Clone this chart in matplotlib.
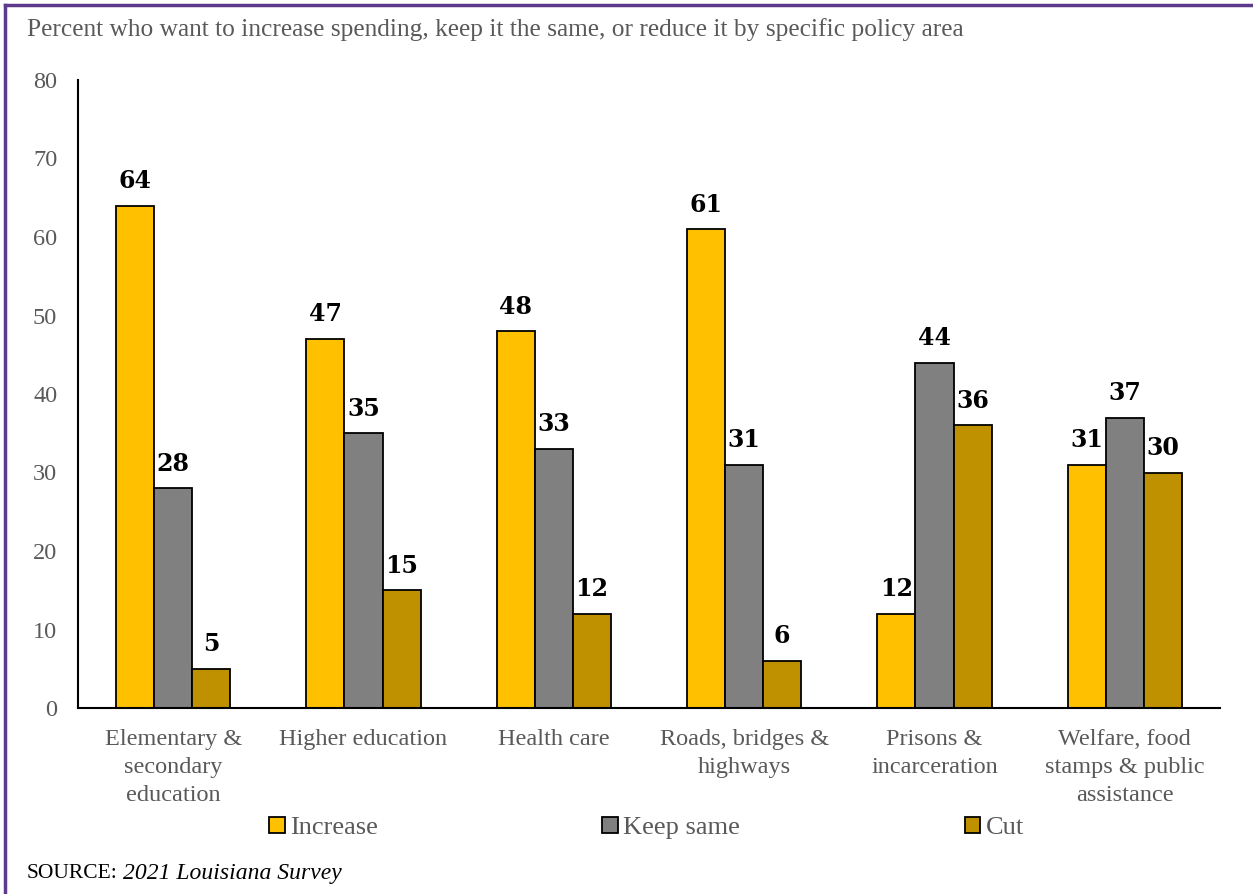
import numpy as np
import matplotlib.pyplot as plt
from matplotlib.lines import Line2D

plt.rcParams['font.family'] = ['Liberation Serif', 'DejaVu Serif']

categories = ["Elementary &\nsecondary\neducation", "Higher education", "Health care",
              "Roads, bridges &\nhighways", "Prisons &\nincarceration",
              "Welfare, food\nstamps & public\nassistance"]
increase = [64, 47, 48, 61, 12, 31]
keep_same = [28, 35, 33, 31, 44, 37]
cut = [5, 15, 12, 6, 36, 30]
series_names = ["Increase", "Keep same", "Cut"]
colors = ["#FFC000", "#808080", "#BF9000"]
yticks = [0, 10, 20, 30, 40, 50, 60, 70, 80]

grey = "#595959"

fig = plt.figure(figsize=(12.53, 8.94), dpi=100)
ax = fig.add_axes([78 / 1253, 1 - 708 / 894, (1220 - 78) / 1253, (708 - 80) / 894])

x = np.arange(len(categories))
w = 0.2
for i, (vals, name, c) in enumerate(zip([increase, keep_same, cut], series_names, colors)):
    bars = ax.bar(x + (i - 1) * w, vals, w, color=c, edgecolor="black", linewidth=1.3, label=name)
    for b, v in zip(bars, vals):
        ax.text(b.get_x() + b.get_width() / 2, v + 1.6, str(v), ha="center", va="bottom",
                fontsize=17, fontweight="bold", color="black", family="DejaVu Serif")

ax.set_xlim(-0.5, len(categories) - 0.5)
ax.set_ylim(0, 80)
ax.set_yticks(yticks)
ax.set_xticks(x)
ax.set_xticklabels(categories, fontsize=17.5, color=grey, linespacing=1.45)
ax.tick_params(axis="both", length=0, labelsize=17.5, labelcolor=grey)
ax.tick_params(axis="y", pad=15)
ax.tick_params(axis="x", pad=15)
for s in ["top", "right"]:
    ax.spines[s].set_visible(False)
for s in ["left", "bottom"]:
    ax.spines[s].set_linewidth(1.5)
    ax.spines[s].set_color("black")

fig.text(27 / 1253, 1 - 30 / 894, "Percent who want to increase spending, keep it the same, or reduce it by specific policy area",
         fontsize=18.3, color=grey, va="center", ha="left")

handles, labels = ax.get_legend_handles_labels()
fig.legend(handles, labels, loc="center left", bbox_to_anchor=(269 / 1253, 1 - 828 / 894), ncol=3,
           frameon=False, fontsize=19, handlelength=0.6, handleheight=0.6, handletextpad=0.2,
           columnspacing=8.5, labelcolor=grey, borderpad=0, borderaxespad=0)

fig.text(27 / 1253, 1 - 874 / 894, "SOURCE:", fontsize=15.5, color="black", va="center", ha="left")
fig.text(123 / 1253, 1 - 874 / 894, "2021 Louisiana Survey", fontsize=17, color="black",
         va="center", ha="left", style="italic")

# frame lines along the top and left edges
frame = "#5E3A8C"
fig.add_artist(Line2D([5 / 1253, 1], [1 - 5 / 894, 1 - 5 / 894], color=frame, linewidth=2.5,
                      transform=fig.transFigure))
fig.add_artist(Line2D([5 / 1253, 5 / 1253], [0, 1 - 5 / 894], color=frame, linewidth=2.5,
                      transform=fig.transFigure))

fig.savefig("out.png", dpi=100)
